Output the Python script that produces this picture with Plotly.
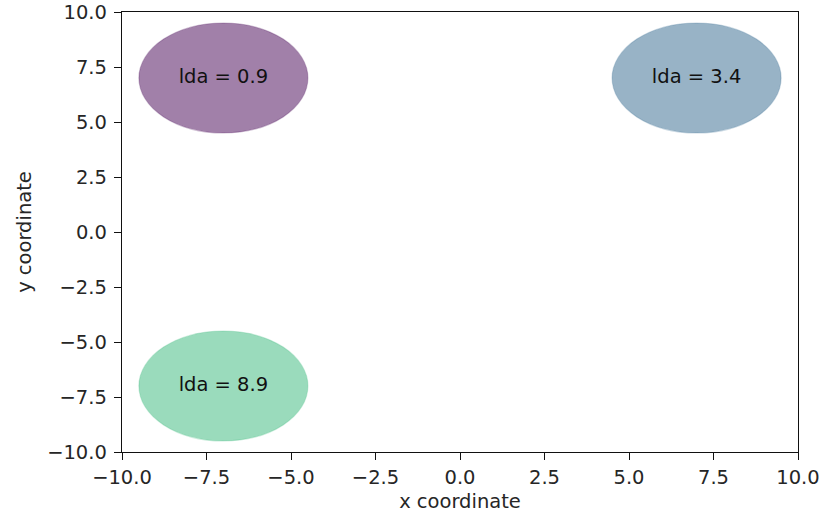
import plotly.graph_objects as go

# Cluster centres, radii and their lda labels
centers_x = [-7.0, 7.0, -7.0]
centers_y = [7.0, 7.0, -7.0]
radii = [2.5, 2.5, 2.5]
lda_values = [0.9, 3.4, 8.9]
fill_colors = ["rgba(68,1,84,0.5)", "rgba(49,104,142,0.5)", "rgba(53,183,121,0.5)"]
edge_colors = ["rgba(68,1,84,0.25)", "rgba(49,104,142,0.25)", "rgba(53,183,121,0.25)"]

tick_vals = [-10.0, -7.5, -5.0, -2.5, 0.0, 2.5, 5.0, 7.5, 10.0]
tick_text = ["\u221210.0", "\u22127.5", "\u22125.0", "\u22122.5", "0.0", "2.5", "5.0", "7.5", "10.0"]

font_family = "DejaVu Sans"
font_size = 19.5
text_color = "#262626"

fig = go.Figure()

shapes = []
for cx, cy, r, fill, edge in zip(centers_x, centers_y, radii, fill_colors, edge_colors):
    shapes.append(dict(
        type="circle", xref="x", yref="y",
        x0=cx - r, x1=cx + r, y0=cy - r, y1=cy + r,
        fillcolor=fill, line=dict(color=edge, width=1.2), layer="below",
    ))

fig.add_trace(go.Scatter(
    x=centers_x, y=centers_y, mode="text",
    text=[f"lda = {v}" for v in lda_values],
    textposition="middle center",
    textfont=dict(family=font_family, size=font_size, color="#111111"),
    hoverinfo="skip", showlegend=False,
))

axis_common = dict(
    range=[-10, 10], tickvals=tick_vals, ticktext=tick_text,
    showgrid=False, zeroline=False, automargin=False,
    showline=True, linecolor="#111111", linewidth=1.4, mirror=True,
    ticks="outside", ticklen=7, tickwidth=1.4, tickcolor="#111111",
    tickfont=dict(family=font_family, size=font_size, color=text_color),
)

fig.update_layout(
    width=821, height=519,
    margin=dict(l=122, r=23, t=12, b=67),
    paper_bgcolor="white", plot_bgcolor="white",
    shapes=shapes,
    xaxis=dict(**axis_common, ticklabelstandoff=0,
               title=dict(text="x coordinate", standoff=6,
                          font=dict(family=font_family, size=font_size, color=text_color))),
    yaxis=dict(**axis_common, ticklabelstandoff=3,
               title=dict(text="y coordinate", standoff=10,
                          font=dict(family=font_family, size=font_size, color=text_color))),
)

fig.write_html("out.html")
